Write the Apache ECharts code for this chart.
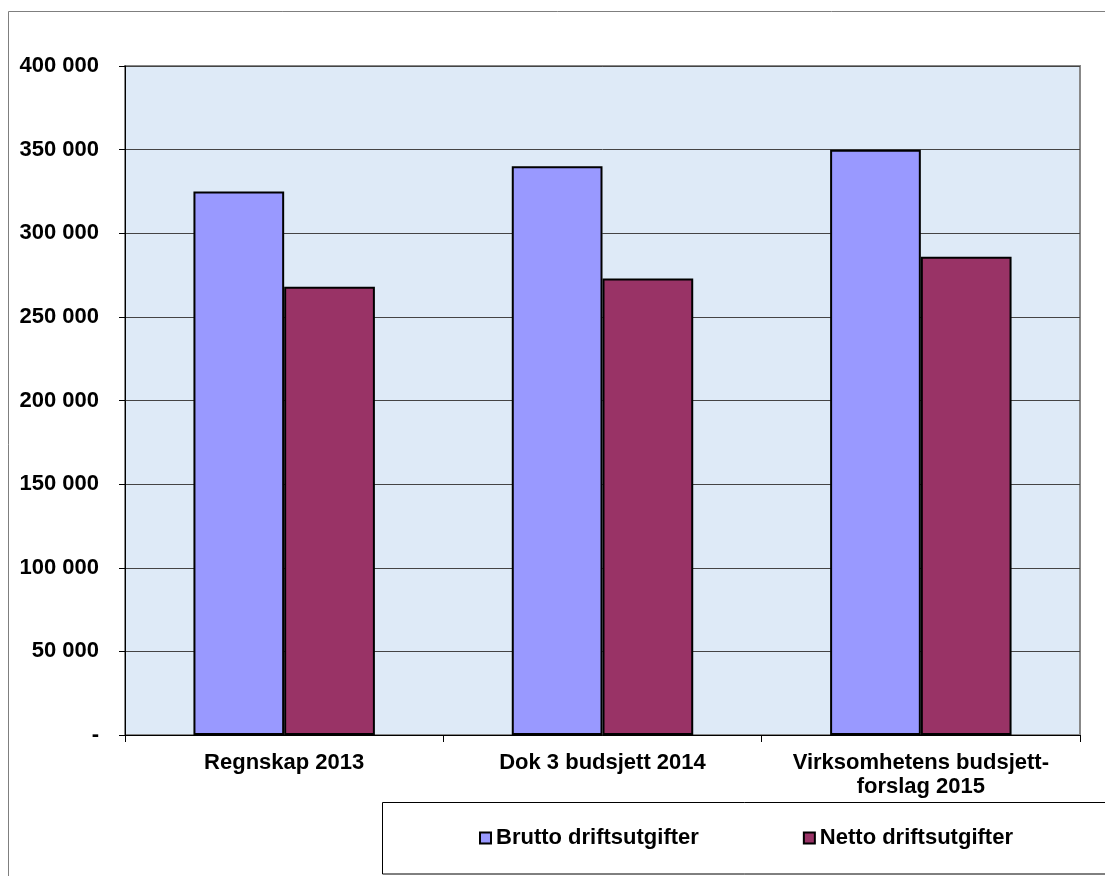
<!DOCTYPE html>
<html>
<head>
<meta charset="utf-8">
<script src="https://cdn.jsdelivr.net/npm/echarts@6/dist/echarts.min.js"></script>
<style>
  html, body { margin: 0; padding: 0; background: #fff; }
  #chart { width: 1105px; height: 876px; }
</style>
</head>
<body>
<div id="chart"></div>
<script>
// data
var categories = ['Regnskap 2013', 'Dok 3 budsjett 2014', 'Virksomhetens budsjett-\nforslag 2015'];
var brutto = [325000, 340000, 350000];
var netto = [268000, 273000, 286000];
var seriesNames = ['Brutto driftsutgifter', 'Netto driftsutgifter'];

var font = 'Liberation Sans, Arial, sans-serif';

function fmt(v) {
  if (v === 0) return '-';
  return String(v).replace(/\B(?=(\d{3})+(?!\d))/g, ' ');
}

var chart = echarts.init(document.getElementById('chart'));
chart.setOption({
  animation: false,
  backgroundColor: '#fff',
  textStyle: { fontFamily: font },
  grid: {
    left: 125, right: 25, top: 66, bottom: 141,
    show: true,
    backgroundColor: '#deeaf7',
    borderColor: '#888',
    borderWidth: 2
  },
  legend: {
    left: 474, top: 822,
    itemWidth: 11, itemHeight: 11,
    itemGap: 104,
    icon: 'rect',
    data: seriesNames,
    textStyle: { fontSize: 22, fontWeight: 'bold', color: '#000', fontFamily: font }
  },
  graphic: [
    // outer chart frame, runs past the right and bottom edges
    { type: 'rect', silent: true, z: -1,
      shape: { x: 8.5, y: 11.5, width: 1200, height: 1000 },
      style: { fill: null, stroke: '#7f7f7f', lineWidth: 1 } },
    // legend box
    { type: 'rect', silent: true, z: 0,
      shape: { x: 382.5, y: 802.5, width: 800, height: 71.5 },
      style: { fill: '#fff', stroke: '#000', lineWidth: 1 } }
  ],
  xAxis: {
    type: 'category',
    data: categories,
    axisLine: { lineStyle: { color: '#000', width: 1 } },
    axisTick: { show: true, length: 7, lineStyle: { color: '#000' } },
    axisLabel: {
      interval: 0, margin: 16,
      fontSize: 22, fontWeight: 'bold', color: '#000', lineHeight: 24,
      fontFamily: font
    }
  },
  yAxis: {
    type: 'value',
    min: 0, max: 400000, interval: 50000,
    axisLine: { show: true, lineStyle: { color: '#000', width: 1 } },
    axisTick: { show: true, length: 6, lineStyle: { color: '#000' } },
    axisLabel: {
      margin: 26, fontSize: 22, fontWeight: 'bold', color: '#000',
      fontFamily: font,
      formatter: fmt
    },
    splitLine: { lineStyle: { color: '#444', width: 1 } }
  },
  series: [
    {
      name: seriesNames[0], type: 'bar', data: brutto,
      barGap: '0%', barCategoryGap: '43%',
      itemStyle: { color: '#9999ff', borderColor: '#000', borderWidth: 2 }
    },
    {
      name: seriesNames[1], type: 'bar', data: netto,
      itemStyle: { color: '#993366', borderColor: '#000', borderWidth: 2 }
    }
  ]
});
</script>
</body>
</html>
